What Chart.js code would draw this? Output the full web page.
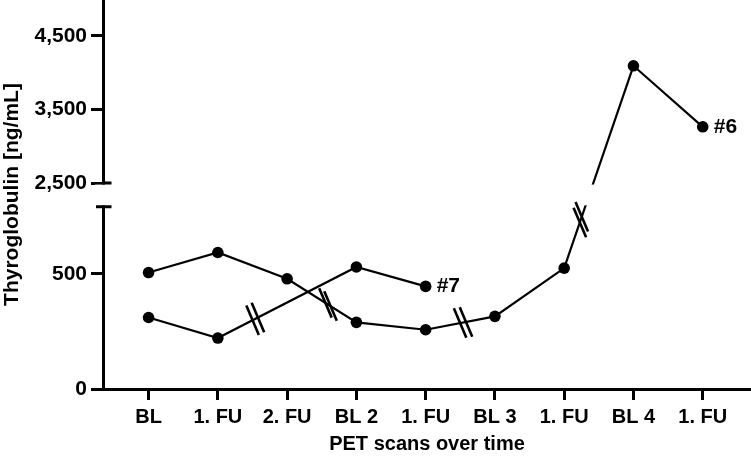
<!DOCTYPE html>
<html>
<head>
<meta charset="utf-8">
<script src="https://cdn.jsdelivr.net/npm/chart.js@4"></script>
<style>
  html, body { margin: 0; padding: 0; background: #fff; }
  .chart-box { position: relative; width: 751px; height: 458px; }
</style>
</head>
<body>
<div class="chart-box"><canvas id="tgChart"></canvas></div>
<script>
(function () {
  // scan time points on the x axis
  const scanLabels = ["BL", "1. FU", "2. FU", "BL 2", "1. FU", "BL 3", "1. FU", "BL 4", "1. FU"];
  // thyroglobulin values [ng/mL], null = no scan
  const patient6 = [505, 592, 478, 289, 257, 315, 524, 4092, 3264];
  const patient7 = [310, 221, null, 529, 445, null, null, null, null];
  const seriesNames = ["#6", "#7"];
  const yTickValues = [0, 500, 2500, 3500, 4500];

  // broken y axis: lower part 0..790, upper part 2500..5000 squeezed
  const lowerTop = 790;
  const upperBottom = 2500;
  const gapUnits = 103;
  const upperFactor = 0.3195;
  const mapY = (v) => (v <= lowerTop ? v : lowerTop + gapUnits + (v - upperBottom) * upperFactor);

  // where the "//" marks sit on a segment (dataset, segment start point, fraction)
  const breakMarks = [
    { dataset: 1, from: 1, t: 0.27 },
    { dataset: 0, from: 2, t: 0.59 },
    { dataset: 0, from: 4, t: 0.54 },
    { dataset: 0, from: 6, t: 0.24 },
  ];

  const toPoints = (values) =>
    values.map((v, i) => (v == null ? null : { x: i, y: mapY(v) })).filter(Boolean);

  const font = "'Liberation Sans', Arial, Helvetica, sans-serif";
  const formatNumber = (value) => new Intl.NumberFormat("en-US").format(value);

  const brokenAxisPlugin = {
    id: "brokenAxis",
    afterDraw(chart) {
      const { ctx, chartArea, scales } = chart;
      const yScale = scales.y;
      const yUpper = yScale.getPixelForValue(mapY(upperBottom));
      const yLower = yScale.getPixelForValue(lowerTop);
      const left = chartArea.left;

      ctx.save();
      ctx.fillStyle = "#fff";
      ctx.fillRect(left - 8, yUpper + 1.5, chartArea.right - left + 8, yLower - yUpper - 3);

      ctx.strokeStyle = "#000";
      ctx.lineWidth = 3;
      ctx.beginPath();
      ctx.moveTo(left - 1, yUpper);
      ctx.lineTo(left + 8.5, yUpper);
      ctx.moveTo(left - 7, yLower);
      ctx.lineTo(left + 8.5, yLower);
      ctx.stroke();

      // "//" marks on segments that skip time
      const dirX = Math.cos((67 * Math.PI) / 180);
      const dirY = Math.sin((67 * Math.PI) / 180);
      const half = 16;
      ctx.lineWidth = 2.6;
      breakMarks.forEach((mark) => {
        const pts = chart.getDatasetMeta(mark.dataset).data;
        const a = pts[mark.from];
        const b = pts[mark.from + 1];
        const cx = a.x + (b.x - a.x) * mark.t;
        const cy = a.y + (b.y - a.y) * mark.t;
        const len = Math.hypot(b.x - a.x, b.y - a.y);
        const ux = (b.x - a.x) / len;
        const uy = (b.y - a.y) / len;
        [-3, 3].forEach((off) => {
          const px = cx + ux * off;
          const py = cy + uy * off;
          ctx.beginPath();
          ctx.moveTo(px - dirX * half, py - dirY * half);
          ctx.lineTo(px + dirX * half, py + dirY * half);
          ctx.stroke();
        });
      });

      // patient labels next to the last point
      ctx.fillStyle = "#000";
      ctx.font = "bold 21px " + font;
      ctx.textAlign = "left";
      ctx.textBaseline = "middle";
      chart.data.datasets.forEach((ds, i) => {
        const pts = chart.getDatasetMeta(i).data;
        const last = pts[pts.length - 1];
        ctx.fillText(seriesNames[i], last.x + 11, last.y);
      });
      ctx.restore();
    },
  };

  const lineStyle = {
    borderColor: "#000",
    borderWidth: 2.2,
    pointRadius: 5.8,
    pointBackgroundColor: "#000",
    pointBorderWidth: 0,
    tension: 0,
  };

  new Chart(document.getElementById("tgChart"), {
    type: "line",
    data: {
      datasets: [
        Object.assign({ label: seriesNames[0], data: toPoints(patient6) }, lineStyle),
        Object.assign({ label: seriesNames[1], data: toPoints(patient7) }, lineStyle),
      ],
    },
    options: {
      responsive: true,
      maintainAspectRatio: false,
      animation: false,
      layout: { autoPadding: false, padding: { top: 0, right: 0, bottom: 0, left: 0 } },
      plugins: {
        legend: { display: false },
        tooltip: { enabled: false },
      },
      scales: {
        x: {
          type: "linear",
          min: -0.658,
          max: 8.697,
          afterBuildTicks(scale) {
            scale.ticks = scanLabels.map((_, i) => ({ value: i }));
          },
          afterFit(scale) {
            scale.height = 69;
            scale.paddingLeft = 0;
            scale.paddingRight = 0;
          },
          grid: { drawOnChartArea: false, tickLength: 11, tickWidth: 3, tickColor: "#000" },
          border: { color: "#000", width: 3 },
          ticks: {
            color: "#000",
            padding: 5,
            maxRotation: 0,
            autoSkip: false,
            font: { family: font, size: 20, weight: "bold" },
            callback(value) {
              return scanLabels[value];
            },
          },
          title: {
            display: true,
            text: "PET scans over time",
            color: "#000",
            padding: { top: 0, bottom: 2 },
            font: { family: font, size: 20, weight: "bold" },
          },
        },
        y: {
          type: "linear",
          min: 0,
          max: 1687,
          afterBuildTicks(scale) {
            scale.ticks = yTickValues.map((v) => ({ value: mapY(v) }));
          },
          afterFit(scale) {
            scale.width = 103;
            scale.paddingTop = 0;
            scale.paddingBottom = 0;
          },
          grid: { drawOnChartArea: false, tickLength: 12, tickWidth: 3, tickColor: "#000" },
          border: { color: "#000", width: 3 },
          ticks: {
            color: "#000",
            padding: 4,
            font: { family: font, size: 21, weight: "bold" },
            callback(value, index) {
              return formatNumber(yTickValues[index]);
            },
          },
          title: {
            display: true,
            text: "Thyroglobulin [ng/mL]",
            color: "#000",
            padding: { top: 0, bottom: 0 },
            font: { family: font, size: 21, weight: "bold" },
          },
        },
      },
    },
    plugins: [brokenAxisPlugin],
  });
})();
</script>
</body>
</html>
